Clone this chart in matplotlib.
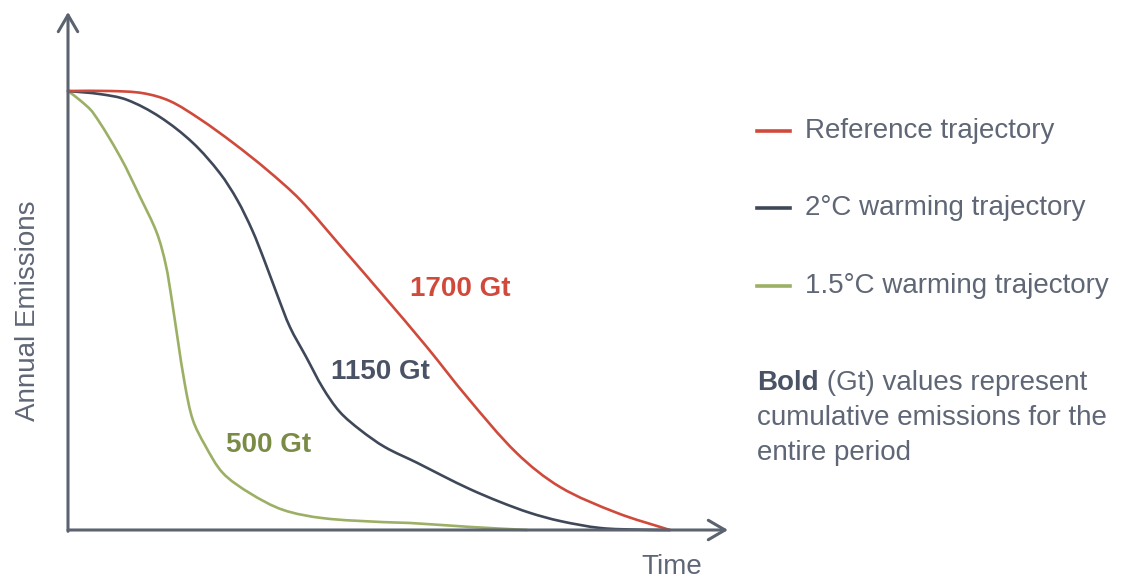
import numpy as np
import matplotlib
matplotlib.use("Agg")
import matplotlib.pyplot as plt
from matplotlib.lines import Line2D
from matplotlib.path import Path
from matplotlib.patches import PathPatch

plt.rcParams['font.family'] = ['Liberation Sans', 'DejaVu Sans']

# curves (time, annual emissions), start value = 100
ref_x = [0, 7, 12.5, 17, 22, 27.5, 33.2, 38.7, 45.3, 52.5, 59.8, 66.5, 74.8, 82, 91.5, 100.3]
ref_y = [100, 100, 99.5, 97.7, 93.6, 88.2, 82, 75.2, 64.9, 53.5, 41.7, 30.3, 17.5, 9.8, 3.9, 0]

two_x = [0, 5.3, 9.8, 15.3, 20.8, 25.3, 28.2, 30.7, 32.7, 35, 37, 39.7, 42.5, 45.3,
         48.7, 52.8, 58.2, 62.5, 67, 72, 77, 82, 88.7, 95.3, 100.3]
two_y = [100, 99.3, 98, 94.1, 88.2, 81.3, 75.2, 68.3, 61.5, 53.1, 46.2, 39.4, 32.3, 26.9,
         22.8, 18.9, 15.3, 12.3, 9.3, 6.4, 3.9, 2.05, 0.46, 0.07, 0]

one5_x = [0, 2, 4.2, 8.7, 12, 14.8, 16.3, 17.3, 18.3, 19.5, 20.8, 22.8, 25.8, 30.3, 35.8, 42.5, 52.5, 57, 67, 76.5]
one5_y = [100, 97.9, 95, 85, 75.9, 67.7, 60.4, 52.4, 43.3, 33.0, 25.1, 19.4, 13.0, 8.4, 4.6, 2.7, 1.8, 1.6, 0.7, 0]

labels = ["Reference trajectory", "2°C warming trajectory", "1.5°C warming trajectory"]
totals = ["1700 Gt", "1150 Gt", "500 Gt"]
total_pos = [(65.3, 54.9), (52, 36), (33.5, 19.4)]

red = "#d04a3c"
dark = "#3f4859"
green = "#9cb065"
green_txt = "#7a8b46"
axis_c = "#5b6270"
txt_c = "#5f6675"

PX = np.array([6.0, 4.39])  # pixels per data unit in x and y


def smooth(xs, ys):
    # chord-length catmull-rom through the read points, drawn as bezier segments
    p = np.column_stack([xs, ys]).astype(float)
    d = np.hypot(*((np.diff(p, axis=0) * PX).T))
    t = np.concatenate([[0], np.cumsum(d)])
    m = np.zeros_like(p)
    m[0] = (p[1] - p[0]) / (t[1] - t[0])
    m[-1] = (p[-1] - p[-2]) / (t[-1] - t[-2])
    for i in range(1, len(p) - 1):
        m[i] = (p[i + 1] - p[i - 1]) / (t[i + 1] - t[i - 1])
    verts, codes = [p[0]], [Path.MOVETO]
    for i in range(len(p) - 1):
        h = t[i + 1] - t[i]
        verts += [p[i] + m[i] * h / 3, p[i + 1] - m[i + 1] * h / 3, p[i + 1]]
        codes += [Path.CURVE4] * 3
    return Path(verts, codes)


fig = plt.figure(figsize=(11.38, 5.81), dpi=100)
ax = fig.add_axes([0, 0, 1, 1])
# 6 px per time unit, 4.39 px per emission unit, origin at pixel (68, 530)
ax.set_xlim(-68 / 6, (1138 - 68) / 6)
ax.set_ylim(-51 / 4.39, 530 / 4.39)
ax.axis("off")

arrow = dict(arrowstyle="->,head_length=0.6,head_width=0.35", color=axis_c,
             lw=2.2, mutation_scale=20, shrinkA=0, shrinkB=0)
ax.annotate("", xy=(0, 118), xytext=(0, -0.3), arrowprops=arrow)
ax.annotate("", xy=(110, 0), xytext=(0, 0), arrowprops=arrow)

for xs, ys, c in [(one5_x, one5_y, green), (two_x, two_y, dark), (ref_x, ref_y, red)]:
    ax.add_patch(PathPatch(smooth(xs, ys), facecolor="none", edgecolor=c, lw=1.9,
                           capstyle="round"))

for t, (x, y), c in zip(totals, total_pos, [red, "#4a5366", green_txt]):
    ax.text(x, y, t, color=c, fontsize=20, fontweight="bold", ha="center", va="center")

fig.text(28 / 1138, 1 - 311 / 581, "Annual Emissions", rotation=90, color=txt_c,
         fontsize=20, ha="center", va="center")
fig.text(672 / 1138, 1 - 567 / 581, "Time", color=txt_c, fontsize=20,
         ha="center", va="center")

# legend
for lab, c, py in zip(labels, [red, dark, green], [131, 208, 286]):
    yf = 1 - py / 581
    fig.add_artist(Line2D([757 / 1138, 790 / 1138], [yf, yf], color=c, lw=2.6,
                          transform=fig.transFigure))
    fig.text(805 / 1138, yf, lab, color=txt_c, fontsize=20, va="center", ha="left")

b = fig.text(757 / 1138, 1 - 383 / 581, "Bold", color="#4a5366", fontsize=20,
             fontweight="bold", va="center", ha="left")
ax.annotate(" (Gt) values represent", xy=(1, 0.5), xycoords=b, color=txt_c,
            fontsize=20, va="center", ha="left")
fig.text(757 / 1138, 1 - 418 / 581, "cumulative emissions for the", color=txt_c,
         fontsize=20, va="center", ha="left")
fig.text(757 / 1138, 1 - 453 / 581, "entire period", color=txt_c, fontsize=20,
         va="center", ha="left")

fig.savefig("out.png", dpi=100)
